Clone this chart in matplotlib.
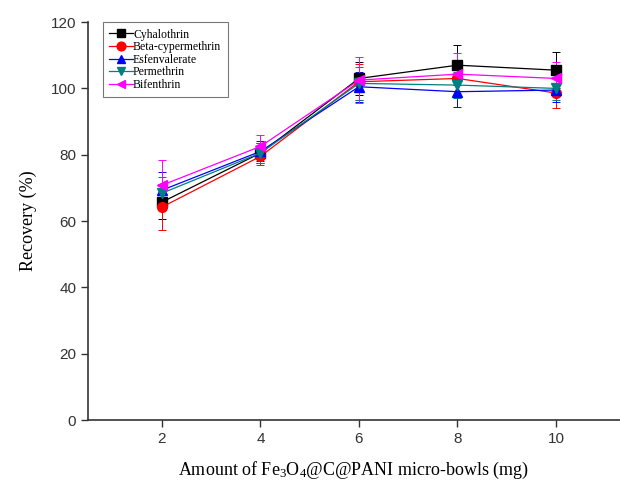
import numpy as np
import matplotlib.pyplot as plt
from matplotlib.lines import Line2D

plt.rcParams["mathtext.fontset"] = "custom"
plt.rcParams["mathtext.rm"] = "Liberation Serif"
plt.rcParams["mathtext.it"] = "Liberation Serif:italic"

# Recovery (%) vs. amount of adsorbent (mg)
amount = [2, 4, 6, 8, 10]

cyhalothrin = [65.7, 80.5, 103.0, 107.0, 105.5]
cyhalothrin_err = [5.0, 3.0, 5.0, 6.0, 5.5]

beta_cypermethrin = [64.2, 79.5, 102.0, 103.0, 98.6]
beta_cypermethrin_err = [7.0, 2.5, 5.5, 5.0, 4.5]

esfenvalerate = [69.3, 81.0, 100.5, 99.0, 99.5]
esfenvalerate_err = [5.5, 3.0, 4.5, 4.5, 3.5]

permethrin = [68.4, 80.5, 101.5, 101.0, 100.0]
permethrin_err = [5.0, 3.0, 5.0, 4.0, 3.5]

bifenthrin = [70.8, 82.5, 102.5, 104.3, 103.0]
bifenthrin_err = [7.5, 3.5, 7.0, 6.5, 5.0]

series = [
    ("Cyhalothrin", cyhalothrin, cyhalothrin_err, "black", "s"),
    ("Beta-cypermethrin", beta_cypermethrin, beta_cypermethrin_err, "red", "o"),
    ("Esfenvalerate", esfenvalerate, esfenvalerate_err, "blue", "^"),
    ("Permethrin", permethrin, permethrin_err, "#008080", "v"),
    ("Bifenthrin", bifenthrin, bifenthrin_err, "magenta", "<"),
]

fig = plt.figure(figsize=(6.2, 4.8), dpi=100)
ax = fig.add_axes([0.142, 0.125, 0.858, 0.829])

handles = []
for name, vals, err, col, mk in series:
    ax.errorbar(amount, vals, yerr=err, color=col, marker=mk, markersize=7,
                linewidth=0.9, elinewidth=0.7, capsize=3, capthick=0.7)
    handles.append(Line2D([], [], color=col, marker=mk, markersize=7,
                          linewidth=0.9, label=name))

ax.set_xlim(0.5, 11.3)
ax.set_ylim(0, 120)
ax.set_xticks([2, 4, 6, 8, 10])
ax.set_yticks(np.arange(0, 121, 20))

for s in ["top", "right"]:
    ax.spines[s].set_visible(False)
for s in ["left", "bottom"]:
    ax.spines[s].set_linewidth(1.2)
    ax.spines[s].set_color("#333333")

ax.tick_params(direction="out", length=5, width=1, labelsize=11,
               colors="#333333")
for lab in ax.get_xticklabels() + ax.get_yticklabels():
    lab.set_fontfamily("Liberation Sans")

ax.set_xlabel(r"Amount of Fe$_3$O$_4$@C@PANI micro-bowls (mg)",
              family="Liberation Serif", fontsize=13, labelpad=10)
ax.set_ylabel("Recovery (%)", family="Liberation Serif", fontsize=13,
              labelpad=10)

leg = ax.legend(handles=handles, loc="upper left",
                bbox_to_anchor=(0.028, 1.0), borderaxespad=0.0,
                prop={"family": "Liberation Serif", "size": 8.5},
                frameon=True, fancybox=False, edgecolor="#555555",
                handlelength=2.0, handletextpad=0.0, borderpad=0.55,
                labelspacing=0.05, markerscale=0.9)
leg.get_frame().set_linewidth(0.8)

fig.savefig("out.png", dpi=100)
